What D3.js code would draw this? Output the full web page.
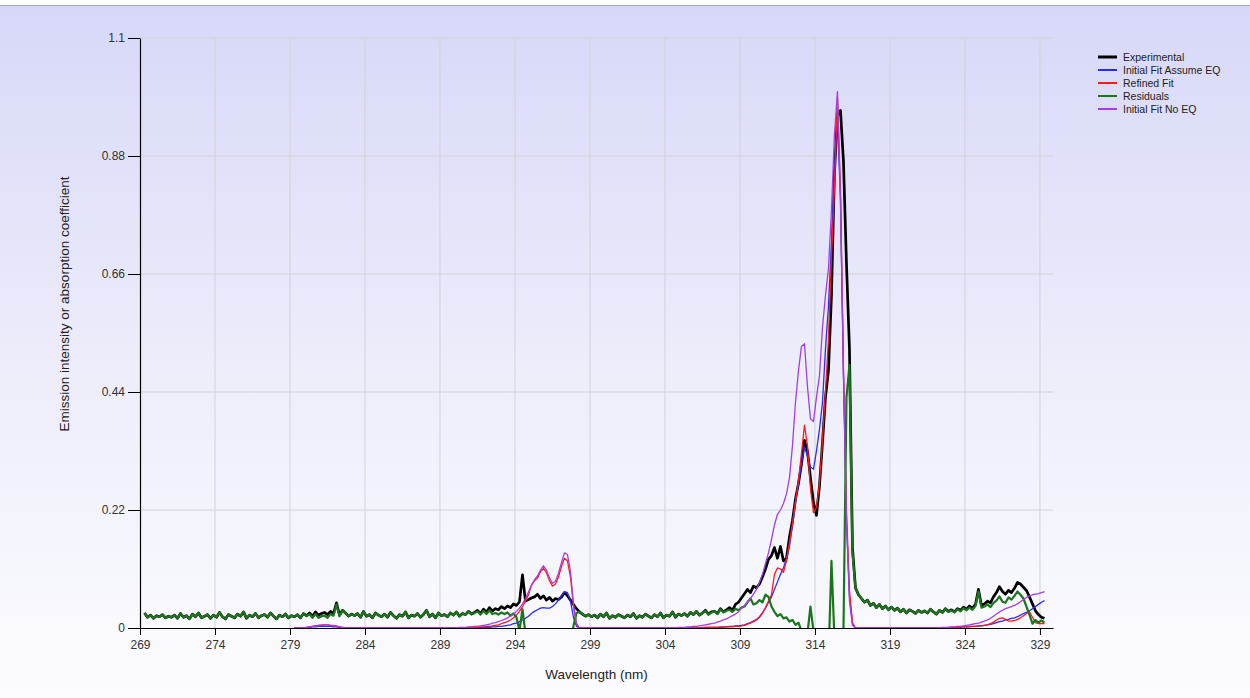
<!DOCTYPE html>
<html>
<head>
<meta charset="utf-8">
<script src="https://cdn.jsdelivr.net/npm/d3@7"></script>
<style>
  body { margin: 0; overflow: hidden; background: #fff; }
  svg { display: block; }
  text { font-family: Arial, "Liberation Sans", sans-serif; }
</style>
</head>
<body>
<div id="chart"></div>
<script>
// sampling grid of the spectrum (nm)
var lambdaStart = 269.3, lambdaStep = 0.2;
var fitStart = 279.3;

// all intensities below are in thousandths
var experimental = [
  28,20,24,18,23,21,25,19,22,20,
  24,18,27,20,23,17,26,21,28,19,
  22,25,18,24,20,29,21,17,25,22,
  19,26,22,30,18,24,21,27,19,23,
  25,20,28,22,17,24,21,26,19,23,
  21,25,19,27,23,28,22,30,24,27,
  29,25,31,27,47,24,33,28,22,26,
  23,27,20,31,22,25,19,28,24,21,
  26,20,29,23,18,25,22,30,19,24,
  22,27,20,25,33,21,26,19,28,23,
  25,21,28,24,30,22,27,25,31,26,
  29,33,27,35,30,38,32,36,34,40,
  36,41,38,45,42,49,99,50,53,56,
  58,63,55,60,52,57,50,55,53,58,
  66,60,52,44,36,30,26,22,25,21,
  24,19,26,21,28,18,23,20,25,22,
  19,24,21,27,18,23,20,26,22,19,
  25,21,28,19,24,22,30,20,26,23,
  27,22,29,25,31,24,28,33,26,30,
  31,27,36,30,34,38,33,44,48,56,
  64,72,66,78,75,82,95,110,128,135,
  150,130,152,125,130,170,200,240,270,305,
  350,330,280,235,210,265,345,430,480,620,
  850,955,965,870,680,520,150,75,62,55,
  48,52,42,46,38,44,36,41,34,39,
  33,37,30,35,28,34,31,27,33,29,
  32,28,35,30,26,33,29,36,31,34,
  30,36,33,39,35,41,37,44,72,42,
  45,50,47,58,66,77,68,63,70,66,
  74,85,82,76,70,58,45,32,25,20,
  18
];

var residuals = [
  28,20,24,18,23,21,25,19,22,20,
  24,18,27,20,23,17,26,21,28,19,
  22,25,18,24,20,29,21,17,25,22,
  19,26,22,30,18,24,21,27,19,23,
  25,20,28,22,17,24,21,26,19,23,
  21,25,19,27,22,26,19,26,19,22,
  23,19,26,23,44,22,32,28,22,26,
  23,27,20,31,22,25,19,28,24,21,
  26,20,29,23,18,25,22,30,19,24,
  22,27,20,25,33,21,26,19,28,23,
  25,21,28,24,30,22,27,25,31,26,
  28,31,25,32,26,33,26,28,25,29,
  26,29,23,27,20,-5,35,-10,-15,-25,
  -30,-30,-50,-51,-51,-31,-28,-27,-42,-57,
  -64,-65,-43,4,28,30,26,22,25,21,
  24,19,26,21,28,18,23,20,25,22,
  19,24,21,27,18,23,20,26,22,19,
  25,21,28,19,24,22,30,20,26,23,
  27,22,29,25,31,24,28,32,25,29,
  31,26,35,29,32,34,30,36,33,38,
  40,48,55,44,46,52,48,62,58,40,
  30,22,26,18,20,12,15,6,10,-5,
  -20,-10,40,-5,-15,-5,-10,-30,-60,125,
  -20,-35,-10,-5,430,490,140,75,62,55,
  48,52,42,46,38,44,36,41,34,39,
  33,37,30,35,28,34,31,27,33,29,
  32,28,35,30,26,33,29,36,30,33,
  29,35,31,37,33,38,34,41,68,38,
  40,44,39,47,51,59,49,47,57,53,
  60,68,62,55,40,25,8,15,10,14,
  10
];

// fits start at fitStart on the same grid
var refinedFit = [
  0,0,0,0,1,2,3,4,5,5,
  6,6,5,4,3,2,1,0,0,0,
  0,0,0,0,0,0,0,0,0,0,
  0,0,0,0,0,0,0,0,0,0,
  0,0,0,0,0,0,0,0,0,0,
  0,0,0,0,0,0,0,0,1,1,
  1,1,2,2,3,3,4,5,6,8,
  10,12,15,19,24,31,40,50,62,80,
  88,93,105,111,103,88,78,82,95,115,
  130,125,95,40,8,0,0,0,0,0,
  0,0,0,0,0,0,0,0,0,0,
  0,0,0,0,0,0,0,0,0,0,
  0,0,0,0,0,0,0,0,0,0,
  0,0,0,0,0,0,0,1,1,1,
  1,1,1,1,2,2,2,3,3,4,
  5,7,9,12,15,20,28,38,50,62,
  100,112,110,104,125,160,195,235,275,325,
  378,340,260,215,225,270,350,440,540,690,
  820,990,820,480,220,70,10,0,0,0,
  0,0,0,0,0,0,0,0,0,0,
  0,0,0,0,0,0,0,0,0,0,
  0,0,0,0,0,0,0,0,1,1,
  1,1,2,2,2,3,3,3,4,4,
  5,6,8,11,15,18,19,16,13,13,
  14,16,19,23,27,30,20,10,8,8,
  8
];

var fitAssumeEq = [
  0,0,0,0,0,1,2,2,3,3,
  3,3,3,2,2,1,0,0,0,0,
  0,0,0,0,0,0,0,0,0,0,
  0,0,0,0,0,0,0,0,0,0,
  0,0,0,0,0,0,0,0,0,0,
  0,0,0,0,0,0,0,0,0,0,
  0,0,1,1,1,1,2,2,3,3,
  4,5,6,8,9,12,15,18,22,27,
  31,34,37,38,37,37,40,45,52,60,
  68,66,50,20,3,0,0,0,0,0,
  0,0,0,0,0,0,0,0,0,0,
  0,0,0,0,0,0,0,0,0,0,
  0,0,0,0,0,0,0,0,0,0,
  0,0,0,0,0,0,1,1,1,1,
  1,1,2,2,2,3,3,4,4,5,
  6,8,10,13,16,21,28,37,48,58,
  72,86,100,112,130,152,190,235,270,305,
  338,320,300,296,330,370,420,520,600,720,
  860,950,800,470,200,60,8,0,0,0,
  0,0,0,0,0,0,0,0,0,0,
  0,0,0,0,0,0,0,0,0,0,
  0,0,0,0,0,0,0,0,0,1,
  1,1,1,2,2,2,3,3,4,4,
  5,6,7,8,10,12,13,15,16,18,
  19,21,24,27,29,32,36,40,44,48,
  51
];

var fitNoEq = [
  0,0,0,0,1,2,3,4,5,6,
  6,6,5,5,4,2,1,0,0,0,
  0,0,0,0,0,0,0,0,0,0,
  0,0,0,0,0,0,0,0,0,0,
  0,0,0,0,0,0,0,0,0,0,
  0,0,0,0,0,1,1,1,2,2,
  3,3,4,5,6,7,9,10,12,14,
  16,19,22,26,31,37,45,55,67,80,
  90,97,108,116,108,93,83,87,102,122,
  140,137,105,45,8,0,0,0,0,0,
  0,0,0,0,0,0,0,0,0,0,
  0,0,0,0,0,0,0,0,0,0,
  0,0,0,0,0,0,0,0,1,1,
  1,2,2,3,3,4,5,6,7,8,
  9,11,13,15,17,20,23,26,30,37,
  42,48,55,63,72,85,100,120,140,165,
  192,212,220,232,250,280,340,420,480,525,
  530,450,390,385,430,470,560,620,670,780,
  920,1000,800,480,200,50,5,0,0,0,
  0,0,0,0,0,0,0,0,0,0,
  0,0,0,0,0,0,0,0,0,0,
  0,0,0,0,0,0,1,1,1,2,
  2,3,3,4,5,6,7,8,9,11,
  13,15,18,22,26,30,33,36,38,40,
  42,45,49,53,57,60,62,63,64,66,
  68
];

var xTicks = [269, 274, 279, 284, 289, 294, 299, 304, 309, 314, 319, 324, 329];
var yTicks = [0, 0.22, 0.44, 0.66, 0.88, 1.1];
var yTickLabels = ["0", "0.22", "0.44", "0.66", "0.88", "1.1"];

var series = [
  { name: "Experimental", values: experimental, start: lambdaStart, color: "#000000", width: 2.7 },
  { name: "Initial Fit Assume EQ", values: fitAssumeEq, start: fitStart, color: "#2a2aff", width: 1.3 },
  { name: "Refined Fit", values: refinedFit, start: fitStart, color: "#ff1a1a", width: 1.3 },
  { name: "Residuals", values: residuals, start: lambdaStart, color: "#1c751c", width: 2.2 },
  { name: "Initial Fit No EQ", values: fitNoEq, start: fitStart, color: "#a040e0", width: 1.3 }
];
var legendOrder = ["Experimental", "Initial Fit Assume EQ", "Refined Fit", "Residuals", "Initial Fit No EQ"];

var svgWidth = 1250, svgHeight = 698;
var margin = { top: 38, right: 197, bottom: 70, left: 140 };
var width = svgWidth - margin.left - margin.right;
var height = svgHeight - margin.top - margin.bottom;

var svg = d3.select("#chart").append("svg")
  .attr("width", svgWidth)
  .attr("height", svgHeight);

// background
var grad = svg.append("defs").append("linearGradient")
  .attr("id", "bg").attr("x1", 0).attr("y1", 0).attr("x2", 0).attr("y2", 1);
grad.append("stop").attr("offset", "0%").attr("stop-color", "#d7d8f8");
grad.append("stop").attr("offset", "55%").attr("stop-color", "#eeeefb");
grad.append("stop").attr("offset", "100%").attr("stop-color", "#fcfcff");

svg.select("defs").append("clipPath").attr("id", "plotClip")
  .append("rect").attr("x", 0).attr("y", 0).attr("width", width).attr("height", height);

svg.append("rect").attr("x", 0).attr("y", 5).attr("width", svgWidth).attr("height", svgHeight - 5)
  .attr("fill", "url(#bg)");
svg.append("line").attr("x1", 0).attr("x2", svgWidth).attr("y1", 5.5).attr("y2", 5.5)
  .attr("stroke", "#a8a8b0").attr("stroke-width", 1);

var chartGroup = svg.append("g")
  .attr("transform", `translate(${margin.left}, ${margin.top})`);

var xScale = d3.scaleLinear().domain([269, 329.87]).range([0, width]);
var yScale = d3.scaleLinear().domain([0, 1.1]).range([height, 0]);

// grid
chartGroup.append("g").selectAll("line")
  .data(xTicks.slice(1))
  .enter().append("line")
  .attr("x1", d => xScale(d)).attr("x2", d => xScale(d))
  .attr("y1", 0).attr("y2", height)
  .attr("stroke", "#d2d2d8").attr("stroke-width", 1);

chartGroup.append("g").selectAll("line")
  .data(yTicks.slice(1))
  .enter().append("line")
  .attr("x1", 0).attr("x2", width)
  .attr("y1", d => yScale(d)).attr("y2", d => yScale(d))
  .attr("stroke", "#d2d2d8").attr("stroke-width", 1);

// series
var lineGroup = chartGroup.append("g").attr("clip-path", "url(#plotClip)");
series.forEach(s => {
  var pts = s.values.map((v, i) => [s.start + i * lambdaStep, v / 1000]);
  var line = d3.line().x(d => xScale(d[0])).y(d => yScale(d[1]));
  lineGroup.append("path")
    .datum(pts)
    .attr("d", line)
    .attr("fill", "none")
    .attr("stroke", s.color)
    .attr("stroke-width", s.width)
    .attr("stroke-linejoin", "round");
});

// axes
var bottomAxis = d3.axisBottom(xScale).tickValues(xTicks).tickSize(7).tickSizeOuter(0).tickPadding(5);
var leftAxis = d3.axisLeft(yScale).tickValues(yTicks)
  .tickFormat((d, i) => yTickLabels[i]).tickSize(12).tickSizeOuter(0).tickPadding(3);

var xAxisG = chartGroup.append("g")
  .attr("transform", `translate(0, ${height})`)
  .call(bottomAxis);
var yAxisG = chartGroup.append("g").call(leftAxis);

[xAxisG, yAxisG].forEach(g => {
  g.select(".domain").attr("stroke", "#000").attr("stroke-width", 1.2);
  g.selectAll(".tick line").attr("stroke", "#000");
  g.selectAll(".tick text").attr("font-size", 12).attr("fill", "#333")
    .style("font-family", "Arial, 'Liberation Sans', sans-serif");
});

// titles
chartGroup.append("text")
  .attr("text-anchor", "middle")
  .attr("transform", `translate(${width / 2}, ${height + 51})`)
  .attr("font-size", 13.5).attr("fill", "#222")
  .text("Wavelength (nm)");

svg.append("text")
  .attr("text-anchor", "middle")
  .attr("transform", `translate(69, 304)rotate(-90)`)
  .attr("font-size", 13.5).attr("fill", "#222")
  .text("Emission intensity or absorption coefficient");

// legend
var legend = svg.append("g").attr("transform", "translate(1098, 57)");
legendOrder.forEach((name, i) => {
  var s = series.find(d => d.name === name);
  var row = legend.append("g").attr("transform", `translate(0, ${i * 13})`);
  row.append("line").attr("x1", 0).attr("x2", 19).attr("y1", 0).attr("y2", 0)
    .attr("stroke", s.color).attr("stroke-width", i === 0 ? 3 : 2);
  row.append("text").attr("x", 25).attr("y", 4)
    .attr("font-size", 10.5).attr("fill", "#222")
    .text(name);
});
</script>
</body>
</html>
